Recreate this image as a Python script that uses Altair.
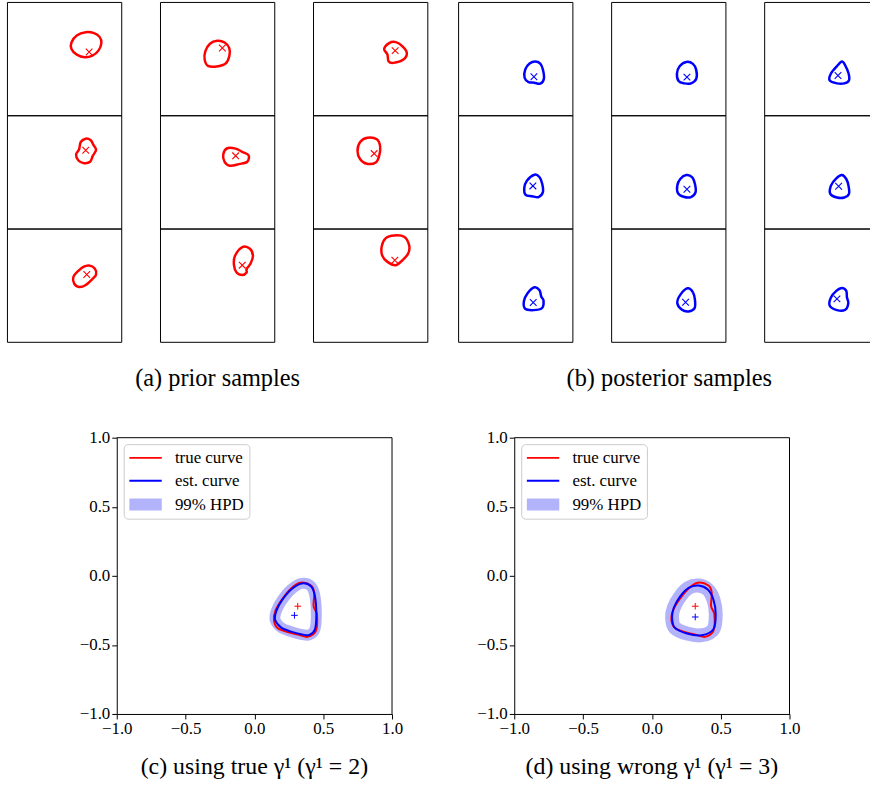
import altair as alt
import pandas as pd

SERIF = "Liberation Serif"
RED = "#ff0000"
BLUE = "#0000ff"
HPD = "#b3b3fb"
X_PATH = "M-1,-1L1,1M-1,1L1,-1"
PLUS_PATH = "M-1,0L1,0M0,-1L0,1"

# ---------------- prior samples (panel coordinates in [-1, 1]) ----------------
prior_r1c1 = [(0.37, 0.475), (0.516, 0.458), (0.615, 0.388), (0.644, 0.283), (0.592, 0.149), (0.487, 0.061),
              (0.353, 0.032), (0.213, 0.079), (0.12, 0.178), (0.12, 0.294), (0.213, 0.417)]
prior_r1c1_mark = (0.429, 0.125)
prior_r2c1 = [(0.37, 0.595), (0.458, 0.566), (0.504, 0.484), (0.551, 0.397), (0.493, 0.292), (0.446, 0.187),
              (0.341, 0.163), (0.242, 0.21), (0.201, 0.315), (0.254, 0.408), (0.283, 0.536)]
prior_r2c1_mark = (0.37, 0.391)
prior_r3c1 = [(0.429, 0.356), (0.528, 0.303), (0.551, 0.198), (0.487, 0.117), (0.37, 0.012), (0.254, -0.023),
              (0.166, 0.041), (0.154, 0.157), (0.236, 0.257), (0.329, 0.332)]
prior_r3c1_mark = (0.388, 0.198)
prior_r1c2 = [(-0.006, 0.324), (0.122, 0.294), (0.204, 0.195), (0.204, 0.05), (0.14, -0.079), (-0.017, -0.131),
              (-0.169, -0.12), (-0.227, -0.009), (-0.216, 0.137), (-0.134, 0.271)]
prior_r1c2_mark = (0.082, 0.195)
prior_r2c2 = [(0.169, 0.426), (0.315, 0.42), (0.431, 0.362), (0.542, 0.303), (0.519, 0.187), (0.373, 0.146),
              (0.216, 0.117), (0.122, 0.187), (0.099, 0.321)]
prior_r2c2_mark = (0.315, 0.292)
prior_r3c2 = [(0.432, 0.682), (0.566, 0.653), (0.618, 0.525), (0.577, 0.391), (0.507, 0.292), (0.507, 0.233),
              (0.431, 0.187), (0.332, 0.233), (0.286, 0.362), (0.303, 0.525)]
prior_r3c2_mark = (0.431, 0.362)
prior_r1c3 = [(0.324, 0.283), (0.44, 0.3), (0.557, 0.224), (0.633, 0.108), (0.574, -0.009), (0.399, -0.067),
              (0.312, -0.038), (0.294, 0.079), (0.236, 0.178)]
prior_r1c3_mark = (0.429, 0.149)
prior_r2c3 = [(-0.055, 0.612), (0.108, 0.583), (0.166, 0.455), (0.149, 0.292), (0.09, 0.175), (-0.067, 0.152),
              (-0.184, 0.233), (-0.23, 0.379), (-0.184, 0.536)]
prior_r2c3_mark = (0.061, 0.332)
prior_r3c3 = [(0.411, 0.886), (0.586, 0.863), (0.674, 0.711), (0.656, 0.566), (0.557, 0.449), (0.44, 0.362),
              (0.294, 0.42), (0.201, 0.536), (0.195, 0.7), (0.265, 0.84)]
prior_r3c3_mark = (0.423, 0.449)

# ---------------- posterior samples ----------------
post_r1c1 = [(0.341, -0.044), (0.429, -0.079), (0.475, -0.184), (0.493, -0.347), (0.429, -0.434), (0.324, -0.417),
             (0.224, -0.405), (0.155, -0.329), (0.166, -0.184), (0.242, -0.079)]
post_r1c1_mark = (0.318, -0.312)
post_r2c1 = [(0.329, -0.041), (0.417, -0.087), (0.464, -0.204), (0.475, -0.35), (0.399, -0.437), (0.283, -0.42),
             (0.172, -0.397), (0.149, -0.28), (0.195, -0.146)]
post_r2c1_mark = (0.3, -0.239)
post_r3c1 = [(0.329, -0.029), (0.417, -0.082), (0.446, -0.192), (0.487, -0.268), (0.458, -0.397), (0.312, -0.432),
             (0.166, -0.408), (0.142, -0.28), (0.207, -0.134)]
post_r3c1_mark = (0.306, -0.297)
post_r1c2 = [(0.306, -0.05), (0.423, -0.085), (0.481, -0.195), (0.481, -0.347), (0.388, -0.429), (0.271, -0.429),
             (0.172, -0.388), (0.143, -0.254), (0.19, -0.125)]
post_r1c2_mark = (0.318, -0.318)
post_r2c2 = [(0.306, -0.047), (0.411, -0.087), (0.458, -0.204), (0.469, -0.35), (0.388, -0.437), (0.259, -0.431),
             (0.16, -0.367), (0.149, -0.233), (0.201, -0.117)]
post_r2c2_mark = (0.318, -0.297)
post_r3c2 = [(0.33, -0.047), (0.423, -0.117), (0.458, -0.251), (0.452, -0.397), (0.347, -0.455), (0.231, -0.426),
             (0.149, -0.309), (0.201, -0.163)]
post_r3c2_mark = (0.294, -0.292)
post_r1c3 = [(0.352, -0.044), (0.411, -0.114), (0.469, -0.254), (0.475, -0.376), (0.394, -0.429), (0.265, -0.429),
             (0.137, -0.376), (0.16, -0.254), (0.265, -0.125)]
post_r1c3_mark = (0.283, -0.289)
post_r2c3 = [(0.353, -0.047), (0.428, -0.117), (0.469, -0.245), (0.475, -0.379), (0.394, -0.443), (0.265, -0.443),
             (0.149, -0.379), (0.16, -0.233), (0.254, -0.105)]
post_r2c3_mark = (0.294, -0.245)
post_r3c3 = [(0.353, -0.041), (0.428, -0.093), (0.44, -0.21), (0.464, -0.309), (0.411, -0.426), (0.265, -0.432),
             (0.137, -0.35), (0.16, -0.21), (0.254, -0.093)]
post_r3c3_mark = (0.265, -0.233)

# ---------------- estimation plots ----------------
true_curve = [(0.334, -0.05), (0.411, -0.07), (0.435, -0.123), (0.43, -0.219), (0.454, -0.279), (0.447, -0.399),
              (0.387, -0.442), (0.327, -0.428), (0.255, -0.411), (0.171, -0.38), (0.142, -0.322), (0.154, -0.25),
              (0.2, -0.171), (0.267, -0.091)]
est_curve_c = [(0.344, -0.055), (0.411, -0.075), (0.44, -0.147), (0.45, -0.279), (0.44, -0.387), (0.399, -0.428),
               (0.339, -0.423), (0.267, -0.404), (0.195, -0.375), (0.151, -0.32), (0.159, -0.255), (0.2, -0.178),
               (0.267, -0.099)]
est_curve_d = [(0.339, -0.07), (0.406, -0.099), (0.447, -0.171), (0.464, -0.279), (0.447, -0.387), (0.363, -0.43),
               (0.255, -0.418), (0.166, -0.375), (0.147, -0.303), (0.159, -0.231), (0.207, -0.147), (0.267, -0.087)]
true_center = (0.315, -0.22)
est_center_c = (0.291, -0.286)
est_center_d = (0.315, -0.298)
tick_values = [-1.0, -0.5, 0.0, 0.5, 1.0]
legend_labels = ["true curve", "est. curve", "99% HPD"]
captions = ["(a) prior samples", "(b) posterior samples",
            "(c) using true \u03b3\u00b9 (\u03b3\u00b9 = 2)", "(d) using wrong \u03b3\u00b9 (\u03b3\u00b9 = 3)"]

prior = [[prior_r1c1, prior_r1c2, prior_r1c3], [prior_r2c1, prior_r2c2, prior_r2c3], [prior_r3c1, prior_r3c2, prior_r3c3]]
prior_marks = [[prior_r1c1_mark, prior_r1c2_mark, prior_r1c3_mark], [prior_r2c1_mark, prior_r2c2_mark, prior_r2c3_mark],
               [prior_r3c1_mark, prior_r3c2_mark, prior_r3c3_mark]]
post = [[post_r1c1, post_r1c2, post_r1c3], [post_r2c1, post_r2c2, post_r2c3], [post_r3c1, post_r3c2, post_r3c3]]
post_marks = [[post_r1c1_mark, post_r1c2_mark, post_r1c3_mark], [post_r2c1_mark, post_r2c2_mark, post_r2c3_mark],
              [post_r3c1_mark, post_r3c2_mark, post_r3c3_mark]]


def curve_df(pts):
    return pd.DataFrame({"u": [p[0] for p in pts], "v": [p[1] for p in pts], "i": list(range(len(pts)))})


def point_df(p):
    return pd.DataFrame({"u": [p[0]], "v": [p[1]]})


ONE = pd.DataFrame({"k": [0]})
PW, PH = 115, 114


def border(w, h, sides):
    out = []
    if "l" in sides:
        out.append(alt.Chart(ONE).mark_rule(color="black", strokeWidth=1).encode(
            x=alt.value(0), y=alt.value(0), y2=alt.value(h)))
    if "r" in sides:
        out.append(alt.Chart(ONE).mark_rule(color="black", strokeWidth=1).encode(
            x=alt.value(w), y=alt.value(0), y2=alt.value(h)))
    if "t" in sides:
        out.append(alt.Chart(ONE).mark_rule(color="black", strokeWidth=1).encode(
            x=alt.value(0), x2=alt.value(w), y=alt.value(0)))
    if "b" in sides:
        out.append(alt.Chart(ONE).mark_rule(color="black", strokeWidth=1).encode(
            x=alt.value(0), x2=alt.value(w), y=alt.value(h)))
    return out


def small_panel(pts, mark, color, cut=False):
    w = 106 if cut else PW
    xmax = -1 + 2 * w / PW
    xs = alt.Scale(domain=[-1, xmax], nice=False, zero=False)
    ys = alt.Scale(domain=[-1, 1], nice=False, zero=False)
    line = alt.Chart(curve_df(pts)).mark_line(color=color, strokeWidth=2.5, interpolate="cardinal-closed").encode(
        x=alt.X("u:Q", scale=xs, axis=None), y=alt.Y("v:Q", scale=ys, axis=None), order="i:Q")
    mk = alt.Chart(point_df(mark)).mark_point(shape=X_PATH, size=45, color=color, strokeWidth=1.1,
                                              filled=False, opacity=1).encode(
        x=alt.X("u:Q", scale=xs, axis=None), y=alt.Y("v:Q", scale=ys, axis=None))
    sides = "ltb" if cut else "lrtb"
    return alt.layer(line, mk, *border(w, PH, sides)).properties(width=w, height=PH)


def group(curves, marks, color, title, cut_last, dx=0):
    cols = []
    for c in range(3):
        cut = cut_last and c == 2
        cols.append(alt.vconcat(*[small_panel(curves[r][c], marks[r][c], color, cut) for r in range(3)],
                                spacing=0, bounds="flush"))
    return alt.hconcat(*cols, spacing=37).properties(
        title=alt.TitleParams(title, orient="bottom", anchor="middle", offset=24, dx=dx,
                              font=SERIF, fontSize=24.5, fontWeight="normal", color="black"))


groupA = group(prior, prior_marks, RED, captions[0], False)
groupB = group(post, post_marks, BLUE, captions[1], True, dx=5)
top_row = alt.hconcat(groupA, groupB, spacing=29)

BW, BH = 277, 278


def big_plot(est, est_center, hpd_width, title):
    xs = alt.Scale(domain=[-1, 1], nice=False, zero=False)
    ys = alt.Scale(domain=[-1, 1], nice=False, zero=False)
    xa = alt.Axis(values=tick_values, format=".1f", title=None, grid=False, labelFlush=False, labelOverlap=False)
    ya = alt.Axis(values=tick_values, format=".1f", title=None, grid=False, labelOverlap=False)
    X = alt.X("u:Q", scale=xs, axis=xa)
    Y = alt.Y("v:Q", scale=ys, axis=ya)
    band = alt.Chart(curve_df(est)).mark_line(color=HPD, strokeWidth=hpd_width, strokeJoin="round",
                                              interpolate="cardinal-closed").encode(x=X, y=Y, order="i:Q")
    tline = alt.Chart(curve_df(true_curve)).mark_line(color=RED, strokeWidth=2,
                                                      interpolate="cardinal-closed").encode(x=X, y=Y, order="i:Q")
    eline = alt.Chart(curve_df(est)).mark_line(color=BLUE, strokeWidth=2,
                                               interpolate="cardinal-closed").encode(x=X, y=Y, order="i:Q")
    tc = alt.Chart(point_df(true_center)).mark_point(shape=PLUS_PATH, size=45, color=RED, strokeWidth=1,
                                                     filled=False, opacity=1).encode(x=X, y=Y)
    ec = alt.Chart(point_df(est_center)).mark_point(shape=PLUS_PATH, size=45, color=BLUE, strokeWidth=1,
                                                    filled=False, opacity=1).encode(x=X, y=Y)
    # legend (drawn in plot-area pixels)
    frame = alt.Chart(ONE).mark_rect(fill="white", fillOpacity=0.8, stroke="#cccccc", strokeWidth=1,
                                     cornerRadius=4).encode(x=alt.value(7.5), x2=alt.value(134),
                                                            y=alt.value(7), y2=alt.value(82))
    r1 = alt.Chart(ONE).mark_rule(color=RED, strokeWidth=2).encode(x=alt.value(12.7), x2=alt.value(45.3), y=alt.value(20.3))
    r2 = alt.Chart(ONE).mark_rule(color=BLUE, strokeWidth=2).encode(x=alt.value(12.7), x2=alt.value(45.3), y=alt.value(43.3))
    r3 = alt.Chart(ONE).mark_rect(color=HPD).encode(x=alt.value(12.7), x2=alt.value(45.3), y=alt.value(61.3), y2=alt.value(73.3))
    texts = []
    for lab, yy in zip(legend_labels, [20.3, 43.3, 67.3]):
        texts.append(alt.Chart(pd.DataFrame({"label": [lab]})).mark_text(
            font=SERIF, fontSize=17, align="left", baseline="middle", color="black").encode(
            text="label:N", x=alt.value(58.5), y=alt.value(yy)))
    return alt.layer(band, tline, eline, tc, ec, frame, r1, r2, r3, *texts, *border(BW, BH, "rt")).properties(
        width=BW, height=BH,
        title=alt.TitleParams(title, orient="bottom", anchor="middle", frame="group", offset=18,
                              font=SERIF, fontSize=24, fontWeight="normal", color="black"))


plotC = big_plot(est_curve_c, est_center_c, 11, captions[2])
plotD = big_plot(est_curve_d, est_center_d, 14, captions[3])
spacer = alt.Chart(ONE).mark_point(opacity=0).properties(width=72, height=10)
bottom_row = alt.hconcat(spacer, alt.hconcat(plotC, plotD, spacing=123, bounds="flush"), spacing=0)

chart = alt.vconcat(top_row, bottom_row, spacing=39).properties(
    padding={"left": 6.5, "top": -1, "right": 0, "bottom": 0}, background="white"
).configure_view(stroke="transparent", strokeWidth=0).configure_axis(
    labelFont=SERIF, labelFontSize=17, labelColor="black", tickColor="black", domainColor="black",
    tickSize=5, tickWidth=1, domainWidth=1, labelPadding=2
)

chart.save("out.html", embed_options={"renderer": "svg", "actions": False})
